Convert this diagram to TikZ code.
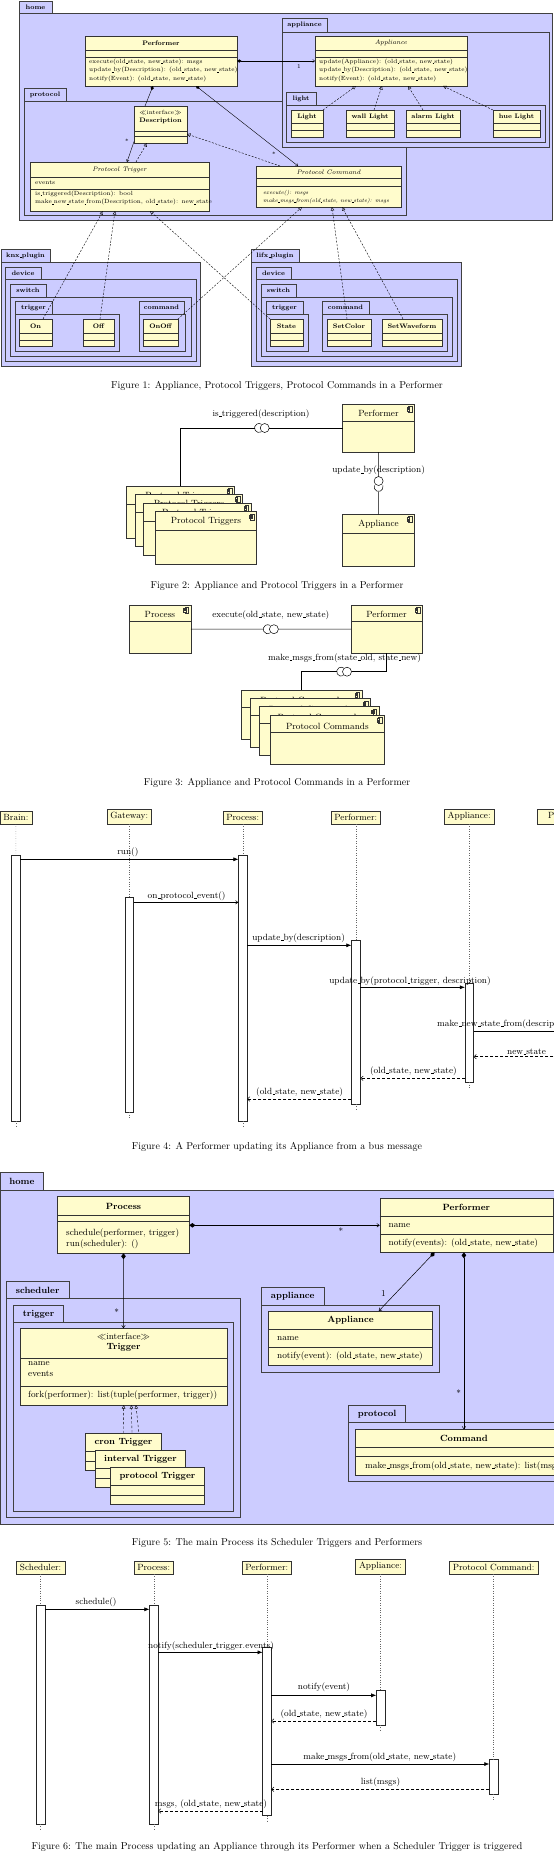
\documentclass[tikz,border=0pt]{standalone}
\usetikzlibrary{arrows.meta}
\pgfdeclarelayer{front}
\pgfsetlayers{main,front}
\renewcommand\_{\leavevmode\kern.06em\vbox{\hrule width.3em}}
\newcommand\fa{\fontsize{6}{8.2}\selectfont}
\newcommand\fai{\fontsize{5.6}{7.6}\selectfont\itshape}
\newcommand\fah{\fontsize{6.5}{8}\selectfont}
\newcommand\fb{\fontsize{9}{11}\selectfont}
\tikzset{
 clsbox/.style={draw=black!80, fill=yellow!20, line width=0.5pt, inner sep=0pt, outer sep=0pt},
 clsline/.style={draw=black!80, line width=0.5pt},
 pkgbox/.style={draw=black!75, fill=blue!20, line width=0.6pt, inner sep=0pt, outer sep=0pt},
 actbox/.style={draw=black!85, fill=white, line width=0.5pt, inner sep=0pt, outer sep=0pt},
 headbox/.style={draw=black!80, fill=yellow!20, line width=0.5pt, inner xsep=3.5pt, inner ysep=3.2pt, font=\fb, anchor=south},
 lifeline/.style={dotted, black!60, line width=0.4pt},
 comp/.style={{Diamond[length=6pt,width=4.5pt]}-{Straight Barb[length=2.5pt,width=3.5pt]}, line width=0.5pt},
 compa/.style={{Diamond[length=4.5pt,width=3.2pt]}-{Straight Barb[length=2pt,width=3pt]}, line width=0.4pt},
 assoca/.style={-{Straight Barb[length=2pt,width=3pt]}, line width=0.4pt},
 realize/.style={dash pattern=on 2pt off 1.5pt, -{Triangle[open,length=3.5pt,width=3.5pt]}, line width=0.4pt},
 call/.style={-{Latex[length=5pt,width=4pt]}, line width=0.55pt},
 async/.style={-{Straight Barb[length=2.5pt,width=3.5pt]}, line width=0.5pt},
 ret/.style={dash pattern=on 3pt off 2pt, -{Straight Barb[length=2.5pt,width=4.5pt]}, line width=0.5pt},
 txa/.style={font=\fa, inner sep=0pt},
 txah/.style={font=\fah, inner sep=0pt},
 txb/.style={font=\fb, inner sep=0pt},
 opsa/.style={font=\fa, inner sep=0pt, align=left, anchor=north west},
 opsb/.style={font=\fb, inner sep=0pt, align=left, anchor=north west},
 msg/.style={font=\fb, inner sep=0pt},
 figcap/.style={font=\normalsize, inner sep=0pt},
}
% name, x1, y1, x2, y2
\newcommand\uclass[5]{\node[clsbox, anchor=north west, minimum width={(#4)-(#2)}, minimum height={(#5)-(#3)}] (#1) at (#2,#3) {};}
\newcommand\uhl[3]{\draw[clsline] (#1,#3) -- (#2,#3);}
% name, label, x1, tabtop, tabright, bodytop, x2, y2
\newcommand\upkg[8]{%
 \node[pkgbox, anchor=north west, minimum width={(#5)-(#3)}, minimum height={(#6)-(#4)}] (#1T) at (#3,#4) {#2};
 \node[pkgbox, anchor=north west, minimum width={(#7)-(#3)}, minimum height={(#8)-(#6)}] (#1) at (#3,#6) {};}
% component icon at right x, top y
\newcommand\uicon[2]{%
 \draw[clsline, line width=0.4pt, fill=yellow!20] ({#1-6},{#2+2}) rectangle ({#1-2.5},{#2+8});
 \draw[clsline, line width=0.4pt, fill=yellow!20] ({#1-7.2},{#2+3.3}) rectangle ({#1-4.8},{#2+4.5});
 \draw[clsline, line width=0.4pt, fill=yellow!20] ({#1-7.2},{#2+5.6}) rectangle ({#1-4.8},{#2+6.8});}
% name, x1, y1, x2, y2, header y, title, title y
\newcommand\ucomp[8]{%
 \uclass{#1}{#2}{#3}{#4}{#5}
 \uhl{#2}{#4}{#6}
 \node[txb] (#1t) at ({((#2)+(#4))/2},#8) {#7};
 \uicon{#4}{#3}}
\begin{document}
\begin{tikzpicture}[x=1pt,y=-1pt]
\useasboundingbox (0,0) rectangle (554,1855);
\fill[white] (0,0) rectangle (554,1855);

%================ Figure 1 ================
\upkg{homeA}{\fah\bfseries home}{19}{1}{52}{13}{552}{220}
\upkg{protA}{\fah\bfseries protocol}{24}{88}{66}{101}{406}{215}
\upkg{appkA}{\fah\bfseries appliance}{282}{18}{327}{32}{549}{147}
\upkg{lightA}{\fah\bfseries light}{286}{92}{316}{105}{545}{142}

\uclass{perfA}{85}{36}{237}{86}\uhl{85}{237}{50}\uhl{85}{237}{57}
\node[txah, font=\fah\bfseries] (perfAt) at (161,43) {Performer};
\node[opsa] (perfAo) at (89,59) {execute(old\_state, new\_state): msgs\\update\_by(Description): (old\_state, new\_state)\\notify(Event): (old\_state, new\_state)};

\uclass{applA}{315}{36}{467}{86}\uhl{315}{467}{50}\uhl{315}{467}{57}
\node[txah, font=\fah\itshape] (applAt) at (391,43) {Appliance};
\node[opsa] (applAo) at (319,59) {update(Appliance): (old\_state, new\_state)\\update\_by(Description): (old\_state, new\_state)\\notify(Event): (old\_state, new\_state)};

\uclass{lA}{291}{110}{323}{137}\uhl{291}{323}{123}\uhl{291}{323}{130}
\node[txah, font=\fah\bfseries] (lAt) at (307,116.5) {Light};
\uclass{lB}{346}{110}{394}{137}\uhl{346}{394}{123}\uhl{346}{394}{130}
\node[txah, font=\fah\bfseries] (lBt) at (370,116.5) {wall Light};
\uclass{lC}{406}{110}{460}{137}\uhl{406}{460}{123}\uhl{406}{460}{130}
\node[txah, font=\fah\bfseries] (lCt) at (433,116.5) {alarm Light};
\uclass{lD}{493}{110}{540}{137}\uhl{493}{540}{123}\uhl{493}{540}{130}
\node[txah, font=\fah\bfseries] (lDt) at (516.5,116.5) {hue Light};

\uclass{descA}{134}{106}{187}{143}\uhl{134}{187}{131}\uhl{134}{187}{136.5}
\node[txa] (descAs) at (160.5,112.5) {$\ll$interface$\gg$};
\node[txah, font=\fah\bfseries] (descAt) at (160.5,121) {Description};

\uclass{ptrA}{30}{162}{209}{211}\uhl{30}{209}{177}\uhl{30}{209}{189}
\node[txah, font=\fah\itshape] (ptrAt) at (119.5,169.5) {Protocol Trigger};
\node[txa, anchor=west] (ptrAa) at (35,183) {events};
\node[opsa] (ptrAo) at (35,191) {is\_triggered(Description): bool\\make\_new\_state\_from(Description, old\_state): new\_state};

\uclass{pcmA}{256}{166}{401}{207}\uhl{256}{401}{178.3}\uhl{256}{401}{186.7}
\node[txah, font=\fah\itshape] (pcmAt) at (328.5,172) {Protocol Command};
\node[opsa, font=\fai] (pcmAo) at (263,190) {execute(): msgs\\make\_msgs\_from(old\_state, new\_state): msgs};

% knx plugin
\upkg{knx}{\fah\bfseries knx\_plugin}{1}{249}{50}{262}{200}{366}
\upkg{kdev}{\fah\bfseries device}{5}{267}{41}{279}{196}{361}
\upkg{ksw}{\fah\bfseries switch}{10}{284}{46}{297}{191}{356}
\upkg{ktrg}{\fah\bfseries trigger}{15}{301}{52}{314}{119}{351}
\upkg{kcmd}{\fah\bfseries command}{139}{301}{184}{314}{185}{351}
\uclass{On}{19}{319}{52}{346}\uhl{19}{52}{333}\uhl{19}{52}{340}
\node[txah, font=\fah\bfseries] (Ont) at (35.5,326) {On};
\uclass{Off}{83}{319}{114}{346}\uhl{83}{114}{333}\uhl{83}{114}{340}
\node[txah, font=\fah\bfseries] (Offt) at (98.5,326) {Off};
\uclass{OnOff}{143}{319}{178}{346}\uhl{143}{178}{333}\uhl{143}{178}{340}
\node[txah, font=\fah\bfseries] (OnOfft) at (160.5,326) {OnOff};

% lifx plugin
\upkg{lifx}{\fah\bfseries lifx\_plugin}{251}{249}{299}{262}{461}{366}
\upkg{ldev}{\fah\bfseries device}{256}{267}{291}{279}{457}{361}
\upkg{lsw}{\fah\bfseries switch}{261}{284}{296}{297}{452}{356}
\upkg{ltrg}{\fah\bfseries trigger}{266}{301}{303}{314}{308}{351}
\upkg{lcmd}{\fah\bfseries command}{322}{301}{369}{314}{447}{351}
\uclass{State}{270}{319}{303}{346}\uhl{270}{303}{333}\uhl{270}{303}{340}
\node[txah, font=\fah\bfseries] (Statet) at (286.5,326) {State};
\uclass{SetColor}{327}{319}{371}{346}\uhl{327}{371}{333}\uhl{327}{371}{340}
\node[txah, font=\fah\bfseries] (SetColort) at (349,326) {SetColor};
\uclass{SetWaveform}{382}{319}{442}{346}\uhl{382}{442}{333}\uhl{382}{442}{340}
\node[txah, font=\fah\bfseries] (SetWaveformt) at (412,326) {SetWaveform};

% connectors figure 1
\draw[compa] ([yshift=-25pt]perfA.north east) -- ([yshift=-25pt]applA.north west);
\node[txa] (mA1) at (299,66.5) {1};
\draw[{Diamond[length=4.5pt,width=3.2pt]}-, line width=0.4pt] ([xshift=-8pt]perfA.south) -- ([xshift=-15.5pt]descA.north);
\draw[compa] ([xshift=35pt]perfA.south) -- ([xshift=-30.5pt]pcmA.north);
\node[txa] (mA2) at (274,154.5) {*};
\draw[assoca] ([yshift=1.5pt]descA.south west) -- ([xshift=7.5pt]ptrA.north);
\node[txa] (mA3) at (127,141.5) {*};
\draw[realize] ([xshift=16.5pt]ptrA.north) -- ([xshift=-13.5pt]descA.south);
\draw[realize] ([xshift=24pt]pcmA.north west) -- ([yshift=9pt]descA.south east);
\draw[realize] (lA.north east) -- ([xshift=-35pt]applA.south);
\draw[realize] ([xshift=4pt]lB.north) -- ([xshift=-9pt]applA.south);
\draw[realize] ([xshift=-10pt]lC.north) -- ([xshift=17pt]applA.south);
\draw[realize] (lD.north west) -- ([xshift=52pt]applA.south);
\draw[realize] ([xshift=7.5pt]On.north) -- ([xshift=-16.5pt]ptrA.south);
\draw[realize] ([xshift=1.5pt]Off.north) -- ([xshift=-4.5pt]ptrA.south);
\draw[realize] (State.north west) -- ([xshift=30.5pt]ptrA.south);
\draw[realize] (OnOff.north east) -- ([xshift=-26.5pt]pcmA.south);
\draw[realize] ([xshift=-2pt]SetColor.north) -- ([xshift=3.5pt]pcmA.south);
\draw[realize] ([xshift=-9pt]SetWaveform.north) -- ([xshift=13.5pt]pcmA.south);

\node[figcap] (cap1) at (277,385.5) {Figure 1: Appliance, Protocol Triggers, Protocol Commands in a Performer};

%================ Figure 2 ================
\ucomp{perfB}{342.7}{404}{414.4}{452}{421}{Performer}{413.5}
\ucomp{applB}{342.7}{514.3}{414.4}{566.7}{533.3}{Appliance}{524.5}
\ucomp{tgA}{126.5}{486}{234.3}{538.3}{504.3}{Protocol Triggers}{496}
\ucomp{tgB}{135.3}{494.3}{242.4}{546.7}{512.6}{Protocol Triggers}{504.3}
\ucomp{tgC}{143.4}{503}{250.9}{555.3}{521.3}{Protocol Triggers}{513}
\ucomp{tgD}{155.5}{511.7}{256.5}{564}{530}{Protocol Triggers}{521.7}

\coordinate (skA) at (259,428);
\coordinate (bsA) at (264.7,428);
\draw[line width=0.5pt] (bsA) circle (4.5);
\draw[line width=0.5pt] (skA) ++(60:4.5) arc[start angle=60, end angle=300, radius=4.5];
\draw[line width=0.5pt] (perfB.west) -- ([xshift=4.5pt]bsA);
\draw[line width=0.5pt] ([xshift=-4.5pt]skA) -| (tgA.north);
\node[txb] (lbA) at (261,414.5) {is\_triggered(description)};

\coordinate (bsB) at (378.6,481);
\coordinate (skB) at (378.6,487);
\draw[line width=0.5pt] (bsB) circle (4.5);
\draw[line width=0.5pt] (skB) ++(-20:4.5) arc[start angle=-20, end angle=200, radius=4.5];
\draw[line width=0.5pt] (perfB.south) -- ([yshift=4.5pt]bsB);
\draw[line width=0.5pt] ([yshift=-4.5pt]skB) -- (applB.north);
\node[txb] (lbB) at (378.6,470.7) {update\_by(description)};

\node[figcap] (cap2) at (277,586) {Figure 2: Appliance and Protocol Triggers in a Performer};

%================ Figure 3 ================
\ucomp{procC}{129}{605}{190.8}{653.3}{621.7}{Process}{614}
\ucomp{perfC}{350.8}{605}{422.2}{653.3}{621.7}{Performer}{614}
\ucomp{cmA}{241.3}{690}{362.1}{739}{707}{Protocol Commands}{700.7}
\ucomp{cmB}{250.1}{698.7}{370.3}{747.7}{715.7}{Protocol Commands}{709.4}
\ucomp{cmC}{259}{706.7}{378.8}{755.7}{723.7}{Protocol Commands}{717.4}
\ucomp{cmD}{270.3}{715.3}{384.4}{764.3}{732.3}{Protocol Commands}{726}

\coordinate (skC) at (267.7,629.2);
\coordinate (bsC) at (273.9,629.2);
\draw[line width=0.5pt] (bsC) circle (4.5);
\draw[line width=0.5pt] (skC) ++(60:4.5) arc[start angle=60, end angle=300, radius=4.5];
\draw[line width=0.5pt] (procC.east) -- ([xshift=-4.5pt]skC);
\draw[line width=0.5pt] ([xshift=4.5pt]bsC) -- (perfC.west);
\node[txb] (lbC) at (270.8,615) {execute(old\_state, new\_state)};

\coordinate (skD) at (341.2,671.7);
\coordinate (bsD) at (347,671.7);
\draw[line width=0.5pt] (bsD) circle (4.5);
\draw[line width=0.5pt] (skD) ++(60:4.5) arc[start angle=60, end angle=300, radius=4.5];
\draw[line width=0.5pt] (perfC.south) |- ([xshift=4.5pt]bsD);
\draw[line width=0.5pt] ([xshift=-4.5pt]skD) -| (cmA.north);
\node[txb] (lbD) at (344.5,658.3) {make\_msgs\_from(state\_old, state\_new)};

\node[figcap] (cap3) at (277,782.7) {Figure 3: Appliance and Protocol Commands in a Performer};

%================ Figure 4 ================
\node[headbox] (hB) at (15.9,824) {Brain:};
\node[headbox] (hG) at (129.2,824) {Gateway:};
\node[headbox] (hP) at (242.7,824) {Process:};
\node[headbox] (hF) at (355.8,824) {Performer:};
\node[headbox] (hA) at (469.2,824) {Appliance:};
\node[headbox, minimum width=91pt] (hT) at (582.6,824) {Protocol Trigger:};

\node[actbox, anchor=north west, minimum width=8.6, minimum height=266] (aB) at (11.6,855) {};
\node[actbox, anchor=north west, minimum width=8.6, minimum height=214.6] (aG) at (124.9,897.7) {};
\node[actbox, anchor=north west, minimum width=8.6, minimum height=266] (aP) at (238.4,855) {};
\node[actbox, anchor=north west, minimum width=9, minimum height=163.3] (aF) at (351.3,940.7) {};
\node[actbox, anchor=north west, minimum width=8.6, minimum height=99.3] (aA) at (464.9,983) {};
\node[actbox, anchor=north west, minimum width=8.6, minimum height=36] (aT) at (578.3,1026) {};

\foreach \h/\a in {hB/aB, hG/aG, hP/aP, hF/aF, hA/aA, hT/aT}{
  \draw[lifeline] (\h.south) -- (\a.north);
  \draw[lifeline] (\a.south) -- ([yshift=-6pt]\a.south);
}

\coordinate (y4a) at (0,859.3);
\coordinate (y4b) at (0,902.3);
\coordinate (y4c) at (0,945.3);
\coordinate (y4d) at (0,987.3);
\coordinate (y4e) at (0,1031);
\coordinate (y4f) at (0,1056.7);
\coordinate (y4g) at (0,1078.3);
\coordinate (y4h) at (0,1099);
\draw[call] (aB.east |- y4a) -- (aP.west |- y4a);
\node[msg] (m4a) at (127.9,852.7) {run()};
\draw[async] (aG.east |- y4b) -- (aP.west |- y4b);
\node[msg] (m4b) at (186.6,896) {on\_protocol\_event()};
\draw[call] (aP.east |- y4c) -- (aF.west |- y4c);
\node[msg] (m4c) at (298.6,938.3) {update\_by(description)};
\draw[call] (aF.east |- y4d) -- (aA.west |- y4d);
\node[msg] (m4d) at (410,981) {update\_by(protocol\_trigger, description)};
\draw[call] (aA.east |- y4e) -- (aT.west |- y4e);
\node[msg] (m4e) at (505.5,1024.3) {make\_new\_state\_from(description)};
\draw[ret] (aT.west |- y4f) -- (aA.east |- y4f);
\node[msg] (m4f) at (526.5,1051.5) {new\_state};
\draw[ret] (aA.west |- y4g) -- (aF.east |- y4g);
\node[msg] (m4g) at (413.4,1071) {(old\_state, new\_state)};
\draw[ret] (aF.west |- y4h) -- (aP.east |- y4h);
\node[msg] (m4h) at (299.6,1092.5) {(old\_state, new\_state)};

\node[figcap] (cap4) at (277,1146.7) {Figure 4: A Performer updating its Appliance from a bus message};

%================ Figure 5 ================
\upkg{homeE}{\fb\bfseries home}{0.5}{1172.7}{43.5}{1190}{560}{1524}

\uclass{procE}{57.6}{1196.7}{189.4}{1253.3}\uhl{57.6}{189.4}{1215.7}\uhl{57.6}{189.4}{1221}
\node[txb, font=\fb\bfseries] (procEt) at (123.5,1206.2) {Process};
\node[opsb] (procEo) at (66,1228.8) {schedule(performer, trigger)\\run(scheduler): ()};

\uclass{perfE}{379.8}{1198.3}{553}{1252.3}\uhl{379.8}{553}{1216.7}\uhl{379.8}{553}{1234}
\node[txb, font=\fb\bfseries] (perfEt) at (466.4,1207.5) {Performer};
\node[txb, anchor=west] (perfEa) at (388.5,1225.3) {name};
\node[txb, anchor=west] (perfEo) at (388.5,1243.3) {notify(events): (old\_state, new\_state)};

\upkg{schE}{\fb\bfseries scheduler}{6.4}{1281.7}{68.9}{1298.3}{240.3}{1517.3}
\upkg{trgE}{\fb\bfseries trigger}{13.4}{1305.7}{63.6}{1322.3}{233.2}{1511.7}

\uclass{trigE}{20.1}{1328.3}{226.8}{1405}\uhl{20.1}{226.8}{1358.3}\uhl{20.1}{226.8}{1386.7}
\node[txb] (trigEs) at (123.5,1336.7) {$\ll$interface$\gg$};
\node[txb, font=\fb\bfseries] (trigEt) at (123.5,1347.7) {Trigger};
\node[opsb, font=\fontsize{9}{10.7}\selectfont] (trigEa) at (28,1361.5) {name\\events};
\node[txb, anchor=west] (trigEo) at (28,1395.7) {fork(performer): list(tuple(performer, trigger))};

\begin{pgfonlayer}{front}
\uclass{cronE}{85.5}{1433.3}{161.5}{1470.3}\uhl{85.5}{161.5}{1451.3}\uhl{85.5}{161.5}{1460.8}
\node[txb, font=\fb\bfseries] (cronEt) at (123.5,1442.3) {cron Trigger};
\uclass{intE}{95.4}{1450.7}{185.5}{1487.7}\uhl{95.4}{185.5}{1468.7}\uhl{95.4}{185.5}{1478.2}
\node[txb, font=\fb\bfseries] (intEt) at (140.5,1459.7) {interval Trigger};
\uclass{ptE}{110.6}{1467.3}{204.2}{1504.3}\uhl{110.6}{204.2}{1485.3}\uhl{110.6}{204.2}{1494.8}
\node[txb, font=\fb\bfseries] (ptEt) at (157.4,1476.3) {protocol Trigger};
\end{pgfonlayer}

\upkg{appE}{\fb\bfseries appliance}{261.5}{1287.3}{324}{1305}{438.8}{1372.3}
\uclass{applE}{268.5}{1311}{432.5}{1365}\uhl{268.5}{432.5}{1329.3}\uhl{268.5}{432.5}{1347.3}
\node[txb, font=\fb\bfseries] (applEt) at (350.5,1320) {Appliance};
\node[txb, anchor=west] (applEa) at (277,1338.3) {name};
\node[txb, anchor=west] (applEo) at (277,1356) {notify(event): (old\_state, new\_state)};

\upkg{protE}{\fb\bfseries protocol}{348.7}{1405.7}{405.6}{1422.7}{580}{1481.7}
\uclass{cmdE}{355.1}{1429.3}{572.7}{1475}\uhl{355.1}{572.7}{1447.3}\uhl{355.1}{572.7}{1456.7}
\node[txb, font=\fb\bfseries] (cmdEt) at (463.9,1438.3) {Command};
\node[txb, anchor=west] (cmdEo) at (365,1466) {make\_msgs\_from(old\_state, new\_state): list(msgs)};

\coordinate (y5a) at (0,1225.3);
\draw[comp] (procE.east |- y5a) -- (perfE.west |- y5a);
\node[txb] (m5a) at (341,1231.5) {*};
\draw[comp] (procE.south) -- (trigE.north);
\node[txb] (m5b) at (116.6,1312) {*};
\draw[comp] ([xshift=-31.8pt]perfE.south) -- ([xshift=28.3pt]applE.north);
\node[txb] (m5c) at (383.4,1293.3) {1};
\draw[comp] ([xshift=-2.5pt]perfE.south) -- (cmdE.north);
\node[txb] (m5d) at (458.6,1392.8) {*};
\draw[realize, dash pattern=on 2.5pt off 2pt] (cronE.north) -- ([xshift=0.2pt]trigE.south);
\draw[realize, dash pattern=on 2.5pt off 2pt] ([xshift=-8pt]intE.north) -- ([xshift=7.9pt]trigE.south);
\draw[realize, dash pattern=on 2.5pt off 2pt] ([xshift=-15pt]ptE.north) -- ([xshift=12.5pt]trigE.south);

\node[figcap] (cap5) at (277,1543.3) {Figure 5: The main Process its Scheduler Triggers and Performers};

%================ Figure 6 ================
\node[headbox] (hS) at (40.6,1574) {Scheduler:};
\node[headbox] (hQ) at (153.7,1574) {Process:};
\node[headbox] (hR) at (266.8,1574) {Performer:};
\node[headbox] (hY) at (380.5,1574) {Appliance:};
\node[headbox] (hZ) at (493.6,1574) {Protocol Command:};

\node[actbox, anchor=north west, minimum width=8.6, minimum height=219] (aS) at (36.3,1605) {};
\node[actbox, anchor=north west, minimum width=8.6, minimum height=219] (aQ) at (149.4,1605) {};
\node[actbox, anchor=north west, minimum width=8.6, minimum height=168] (aR) at (262.5,1647.7) {};
\node[actbox, anchor=north west, minimum width=8.6, minimum height=34.3] (aY) at (376.2,1690.7) {};
\node[actbox, anchor=north west, minimum width=8.6, minimum height=35] (aZ) at (489.3,1759.3) {};

\foreach \h/\a in {hS/aS, hQ/aQ, hR/aR, hY/aY, hZ/aZ}{
  \draw[lifeline] (\h.south) -- (\a.north);
  \draw[lifeline] (\a.south) -- ([yshift=-6pt]\a.south);
}

\coordinate (y6a) at (0,1609.3);
\coordinate (y6b) at (0,1652.3);
\coordinate (y6c) at (0,1695.3);
\coordinate (y6d) at (0,1721);
\coordinate (y6e) at (0,1764);
\coordinate (y6f) at (0,1789.3);
\coordinate (y6g) at (0,1811);
\draw[call] (aS.east |- y6a) -- (aQ.west |- y6a);
\node[msg] (m6a) at (96.1,1602.7) {schedule()};
\draw[call] (aQ.east |- y6b) -- (aR.west |- y6b);
\node[msg] (m6b) at (211,1646) {notify(scheduler\_trigger.events)};
\draw[call] (aR.east |- y6c) -- (aY.west |- y6c);
\node[msg] (m6c) at (324,1687.7) {notify(event)};
\draw[ret] (aY.west |- y6d) -- (aR.east |- y6d);
\node[msg] (m6d) at (324,1714.3) {(old\_state, new\_state)};
\draw[call] (aR.east |- y6e) -- (aZ.west |- y6e);
\node[msg] (m6e) at (379.8,1757.3) {make\_msgs\_from(old\_state, new\_state)};
\draw[ret] (aZ.west |- y6f) -- (aR.east |- y6f);
\node[msg] (m6f) at (380.5,1782.3) {list(msgs)};
\draw[ret] (aR.west |- y6g) -- (aQ.east |- y6g);
\node[msg] (m6g) at (211,1804.3) {msgs, (old\_state, new\_state)};

\node[figcap] (cap6) at (277,1846.7) {Figure 6: The main Process updating an Appliance through its Performer when a Scheduler Trigger is triggered};
\end{tikzpicture}
\end{document}
